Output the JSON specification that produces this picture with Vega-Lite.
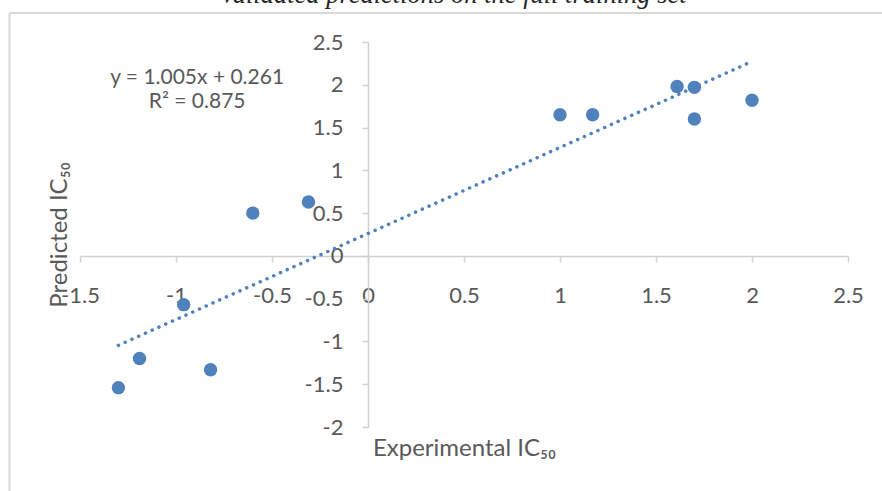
{
  "$schema": "https://vega.github.io/schema/vega-lite/v6.json",
  "width": 768,
  "height": 385,
  "autosize": "none",
  "padding": {"left": 80, "top": 42, "right": 34, "bottom": 64},
  "background": "white",
  "config": {"view": {"stroke": null}, "font": "Lato"},
  "title": {
    "text": "Validated predictions on the full training set",
    "font": "Liberation Serif",
    "fontStyle": "italic",
    "fontWeight": "normal",
    "fontSize": 26.5,
    "color": "#262626",
    "anchor": "middle",
    "baseline": "alphabetic",
    "offset": -18,
    "dx": -11
  },
  "data": {
    "values": [
      {"exp": -1.30, "pred": -1.54},
      {"exp": -1.19, "pred": -1.20},
      {"exp": -0.96, "pred": -0.57},
      {"exp": -0.82, "pred": -1.33},
      {"exp": -0.60, "pred": 0.50},
      {"exp": -0.31, "pred": 0.63},
      {"exp": 1.00, "pred": 1.65},
      {"exp": 1.17, "pred": 1.65},
      {"exp": 1.61, "pred": 1.98},
      {"exp": 1.70, "pred": 1.97},
      {"exp": 1.70, "pred": 1.60},
      {"exp": 2.00, "pred": 1.82}
    ]
  },
  "layer": [
    {
      "mark": {"type": "circle", "size": 180, "opacity": 1, "color": "#4F81BD"},
      "encoding": {
        "x": {
          "field": "exp", "type": "quantitative",
          "scale": {"domain": [-1.5, 2.5], "nice": false, "zero": false},
          "axis": {
            "title": "Experimental IC₅₀",
            "offset": -171,
            "values": [-1.5, -1, -0.5, 0, 0.5, 1, 1.5, 2, 2.5],
            "labelExpr": "'' + datum.value",
            "grid": false,
            "domainColor": "#d0d0d0", "domainWidth": 1.5,
            "tickColor": "#d0d0d0", "tickSize": 6, "tickWidth": 1.5,
            "labelColor": "#595959", "labelFontSize": 22, "labelFont": "Lato",
            "labelPadding": 23, "labelOverlap": false, "labelFlush": false, "labelBound": false,
            "titleColor": "#595959", "titleFontSize": 24, "titleFont": "Lato", "titleFontWeight": "normal",
            "titleBaseline": "alphabetic", "titleY": 199
          }
        },
        "y": {
          "field": "pred", "type": "quantitative",
          "scale": {"domain": [-2, 2.5], "nice": false, "zero": false},
          "axis": {
            "title": "Predicted IC₅₀",
            "offset": -288,
            "values": [-2, -1.5, -1, -0.5, 0, 0.5, 1, 1.5, 2, 2.5],
            "labelExpr": "'' + datum.value",
            "grid": false,
            "domainColor": "#d0d0d0", "domainWidth": 1.5,
            "tickColor": "#d0d0d0", "tickSize": 6, "tickWidth": 1.5,
            "labelColor": "#595959", "labelFontSize": 22, "labelFont": "Lato",
            "labelPadding": 19, "labelOverlap": false, "labelFlush": false, "labelBound": false,
            "titleColor": "#595959", "titleFontSize": 24, "titleFont": "Lato", "titleFontWeight": "normal",
            "titleBaseline": "alphabetic", "titleX": -302, "titleAngle": -90
          }
        }
      }
    },
    {
      "transform": [{"regression": "pred", "on": "exp", "extent": [-1.3, 2.0]}],
      "mark": {"type": "line", "color": "#4F81BD", "strokeWidth": 3.5, "strokeCap": "round", "strokeDash": [0.1, 7.3]},
      "encoding": {
        "x": {"field": "exp", "type": "quantitative"},
        "y": {"field": "pred", "type": "quantitative"}
      }
    },
    {
      "data": {"values": [{}]},
      "mark": {"type": "rule", "color": "#d9d9d9", "strokeWidth": 2},
      "encoding": {
        "x": {"datum": -1.867, "type": "quantitative"},
        "x2": {"datum": 2.75},
        "y": {"datum": 2.84, "type": "quantitative"}
      }
    },
    {
      "data": {"values": [{}]},
      "mark": {"type": "rule", "color": "#d9d9d9", "strokeWidth": 2},
      "encoding": {
        "x": {"datum": -1.867, "type": "quantitative"},
        "y": {"datum": 2.84, "type": "quantitative"},
        "y2": {"datum": -2.9}
      }
    },
    {
      "data": {"values": [{}]},
      "mark": {"type": "text", "text": "y = 1.005x + 0.261", "font": "Lato", "fontSize": 21, "color": "#595959", "baseline": "middle", "align": "center"},
      "encoding": {
        "x": {"datum": -0.89, "type": "quantitative"},
        "y": {"datum": 2.08, "type": "quantitative"}
      }
    },
    {
      "data": {"values": [{}]},
      "mark": {"type": "text", "text": "R² = 0.875", "font": "Lato", "fontSize": 21, "color": "#595959", "baseline": "middle", "align": "center"},
      "encoding": {
        "x": {"datum": -0.89, "type": "quantitative"},
        "y": {"datum": 1.80, "type": "quantitative"}
      }
    }
  ]
}
